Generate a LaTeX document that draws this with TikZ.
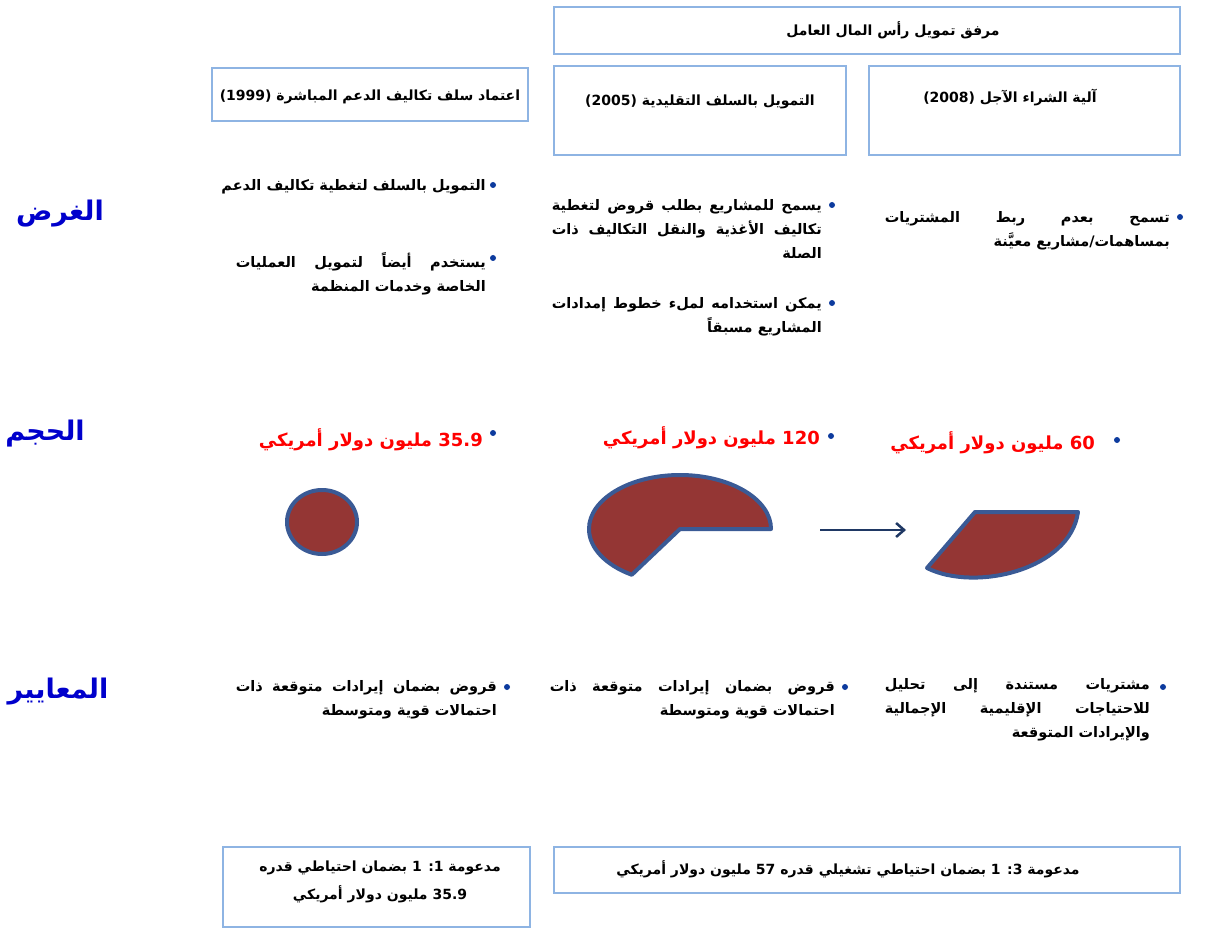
\documentclass[tikz,border=0pt]{standalone}
\usepackage{fontspec}
\setmainfont{Liberation Sans}
\newfontfamily\arabicfont[Script=Arabic]{DejaVu Sans}
\TeXXeTstate=1
\usetikzlibrary{arrows.meta}
\definecolor{boxblue}{HTML}{8EB4E3}
\definecolor{labblue}{HTML}{0000CC}
\definecolor{dotblue}{HTML}{0D3B9E}
\definecolor{shapefill}{HTML}{943634}
\definecolor{shapeline}{HTML}{3A5A95}
\definecolor{arrowcol}{HTML}{1F3864}
\tikzset{
  hbox/.style={draw=boxblue, line width=2.5pt, inner sep=0pt},
  htxt/.style={font=\arabicfont\bfseries\fontsize{14}{28}\selectfont, inner sep=0pt, align=center},
  btxt/.style={font=\arabicfont\bfseries\fontsize{14.5}{24}\selectfont, inner sep=0pt, align=right, anchor=north east},
  vtxt/.style={font=\arabicfont\bfseries\fontsize{18}{20}\selectfont, text=red, inner sep=0pt, anchor=east},
  rowlab/.style={font=\arabicfont\bfseries\fontsize{27}{30}\selectfont, text=labblue, inner sep=0pt},
  dot/.style={circle, fill=dotblue, inner sep=0pt, minimum size=6pt},
  blob/.style={fill=shapefill, draw=shapeline, line width=4pt, line join=round},
}
\begin{document}
\begin{tikzpicture}[x=1pt,y=-1pt]
\useasboundingbox (0,0) rectangle (1205,928);
% header boxes
\node[hbox, minimum width=626pt, minimum height=47pt] (top) at (867,30.5) {};
\node[htxt] (toptxt) at (893,30) {\beginR مرفق تمويل رأس المال العامل\endR};
\node[hbox, minimum width=316pt, minimum height=53pt] (b99) at (370,94.5) {};
\node[htxt] (b99txt) at (370,97) {\beginR اعتماد سلف تكاليف الدعم المباشرة \beginL(1999)\endL\endR};
\node[hbox, minimum width=292pt, minimum height=89pt] (b05) at (700,110.5) {};
\node[htxt] (b05txt) at (700,102) {\beginR التمويل بالسلف التقليدية \beginL(2005)\endL\endR};
\node[hbox, minimum width=311pt, minimum height=89pt] (b08) at (1024.5,110.5) {};
\node[htxt] (b08txt) at (1010,98) {\beginR آلية الشراء الآجل \beginL(2008)\endL\endR};
% row labels
\node[rowlab] (lpurpose) at (60,214) {\beginR الغرض\endR};
\node[rowlab] (lsize) at (45,434) {\beginR الحجم\endR};
\node[rowlab] (lcrit) at (58,692) {\beginR المعايير\endR};
% purpose row
\node[dot] (d11) at (493,185) {};
\node[btxt] (p11) at (486,179) {\beginR التمويل بالسلف لتغطية تكاليف الدعم\endR};
\node[dot] (d12) at (493,258) {};
\node[btxt] (p12) at (486,252) {\hbox to 250pt{\beginR يستخدم أيضاً لتمويل العمليات\endR}\\\beginR الخاصة وخدمات المنظمة\endR};
\node[dot] (d21) at (832,205) {};
\node[btxt] (p21) at (822,199) {\hbox to 270pt{\beginR يسمح للمشاريع بطلب قروض لتغطية\endR}\\\hbox to 270pt{\beginR تكاليف الأغذية والنقل التكاليف ذات\endR}\\\beginR الصلة\endR};
\node[dot] (d22) at (832,303) {};
\node[btxt] (p22) at (822,297) {\hbox to 270pt{\beginR يمكن استخدامه لملء خطوط إمدادات\endR}\\\beginR المشاريع مسبقاً\endR};
\node[dot] (d31) at (1180,217) {};
\node[btxt] (p31) at (1170,211) {\hbox to 285pt{\beginR تسمح بعدم ربط المشتريات\endR}\\\beginR بمساهمات/مشاريع معيَّنة\endR};
% size row
\node[dot] (v1d) at (493,433) {};
\node[vtxt] (v1) at (483,440) {\beginR\beginL 35.9\endL{} مليون دولار أمريكي\endR};
\node[dot] (v2d) at (831,436) {};
\node[vtxt] (v2) at (820,438) {\beginR\beginL 120\endL{} مليون دولار أمريكي\endR};
\node[dot] (v3d) at (1117,440) {};
\node[vtxt] (v3) at (1095,443) {\beginR\beginL 60\endL{} مليون دولار أمريكي\endR};
% shapes
\draw[blob] (322,522) ellipse [x radius=35pt, y radius=32pt];
\draw[blob] (680,529) -- ++(91,0) arc[start angle=0, end angle=238, x radius=91pt, y radius=54pt] -- cycle;
\draw[blob] (975,512) -- (1078,512) .. controls (1070,570) and (975,592) .. (927,568) -- cycle;
\coordinate (a1) at (820,530);
\coordinate (a2) at (906,530);
\draw[arrowcol, line width=2.5pt, -{Straight Barb[length=8pt,width=14pt]}] (a1) -- (a2);
% criteria row
\node[dot] (c1d) at (507,687) {};
\node[btxt] (c1) at (497,680) {\hbox to 261pt{\beginR قروض بضمان إيرادات متوقعة ذات\endR}\\\beginR احتمالات قوية ومتوسطة\endR};
\node[dot] (c2d) at (845,687) {};
\node[btxt] (c2) at (835,680) {\hbox to 285pt{\beginR قروض بضمان إيرادات متوقعة ذات\endR}\\\beginR احتمالات قوية ومتوسطة\endR};
\node[dot] (c3d) at (1163,687) {};
\node[btxt] (c3) at (1150,678) {\hbox to 265pt{\beginR مشتريات مستندة إلى تحليل\endR}\\\hbox to 265pt{\beginR للاحتياجات الإقليمية الإجمالية\endR}\\\beginR والإيرادات المتوقعة\endR};
% bottom boxes
\node[hbox, minimum width=307pt, minimum height=80pt] (bl) at (376.5,887) {};
\node[htxt] (bltxt) at (380,882) {\beginR مدعومة 1: 1 بضمان احتياطي قدره\endR\\\beginR\beginL 35.9\endL{} مليون دولار أمريكي\endR};
\node[hbox, minimum width=626pt, minimum height=46pt] (br) at (867,870) {};
\node[htxt] (brtxt) at (848,869) {\beginR مدعومة 3: 1 بضمان احتياطي تشغيلي قدره \beginL 57\endL{} مليون دولار أمريكي\endR};
\end{tikzpicture}
\end{document}
